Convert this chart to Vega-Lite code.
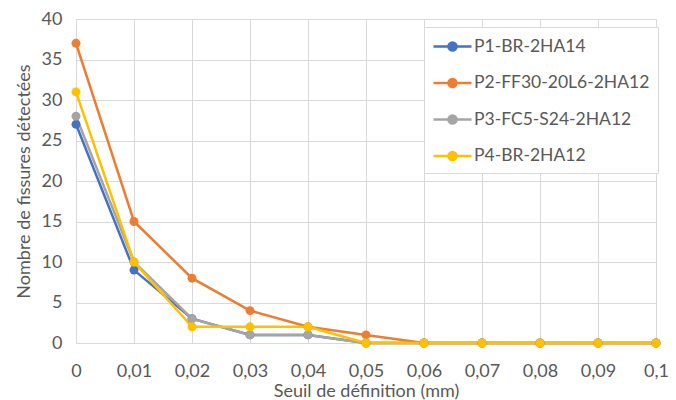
{
  "$schema": "https://vega.github.io/schema/vega-lite/v6.json",
  "width": 580,
  "height": 324,
  "autosize": "none",
  "padding": {"left": 76, "top": 19, "right": 20, "bottom": 57},
  "background": "white",
  "config": {
    "font": "Lato",
    "view": {"stroke": null},
    "axis": {
      "labelColor": "#595959",
      "titleColor": "#595959",
      "labelFontSize": 18,
      "titleFontSize": 18,
      "titleFontWeight": "normal",
      "gridColor": "#d9d9d9",
      "gridWidth": 1,
      "domainColor": "#d9d9d9",
      "domainWidth": 1,
      "ticks": false
    }
  },
  "data": {
    "values": [
      {"seuil": 0, "serie": "P1-BR-2HA14", "n": 27},
      {"seuil": 0.01, "serie": "P1-BR-2HA14", "n": 9},
      {"seuil": 0.02, "serie": "P1-BR-2HA14", "n": 3},
      {"seuil": 0.03, "serie": "P1-BR-2HA14", "n": 1},
      {"seuil": 0.04, "serie": "P1-BR-2HA14", "n": 1},
      {"seuil": 0.05, "serie": "P1-BR-2HA14", "n": 0},
      {"seuil": 0.06, "serie": "P1-BR-2HA14", "n": 0},
      {"seuil": 0.07, "serie": "P1-BR-2HA14", "n": 0},
      {"seuil": 0.08, "serie": "P1-BR-2HA14", "n": 0},
      {"seuil": 0.09, "serie": "P1-BR-2HA14", "n": 0},
      {"seuil": 0.1, "serie": "P1-BR-2HA14", "n": 0},
      {"seuil": 0, "serie": "P2-FF30-20L6-2HA12", "n": 37},
      {"seuil": 0.01, "serie": "P2-FF30-20L6-2HA12", "n": 15},
      {"seuil": 0.02, "serie": "P2-FF30-20L6-2HA12", "n": 8},
      {"seuil": 0.03, "serie": "P2-FF30-20L6-2HA12", "n": 4},
      {"seuil": 0.04, "serie": "P2-FF30-20L6-2HA12", "n": 2},
      {"seuil": 0.05, "serie": "P2-FF30-20L6-2HA12", "n": 1},
      {"seuil": 0.06, "serie": "P2-FF30-20L6-2HA12", "n": 0},
      {"seuil": 0.07, "serie": "P2-FF30-20L6-2HA12", "n": 0},
      {"seuil": 0.08, "serie": "P2-FF30-20L6-2HA12", "n": 0},
      {"seuil": 0.09, "serie": "P2-FF30-20L6-2HA12", "n": 0},
      {"seuil": 0.1, "serie": "P2-FF30-20L6-2HA12", "n": 0},
      {"seuil": 0, "serie": "P3-FC5-S24-2HA12", "n": 28},
      {"seuil": 0.01, "serie": "P3-FC5-S24-2HA12", "n": 10},
      {"seuil": 0.02, "serie": "P3-FC5-S24-2HA12", "n": 3},
      {"seuil": 0.03, "serie": "P3-FC5-S24-2HA12", "n": 1},
      {"seuil": 0.04, "serie": "P3-FC5-S24-2HA12", "n": 1},
      {"seuil": 0.05, "serie": "P3-FC5-S24-2HA12", "n": 0},
      {"seuil": 0.06, "serie": "P3-FC5-S24-2HA12", "n": 0},
      {"seuil": 0.07, "serie": "P3-FC5-S24-2HA12", "n": 0},
      {"seuil": 0.08, "serie": "P3-FC5-S24-2HA12", "n": 0},
      {"seuil": 0.09, "serie": "P3-FC5-S24-2HA12", "n": 0},
      {"seuil": 0.1, "serie": "P3-FC5-S24-2HA12", "n": 0},
      {"seuil": 0, "serie": "P4-BR-2HA12", "n": 31},
      {"seuil": 0.01, "serie": "P4-BR-2HA12", "n": 10},
      {"seuil": 0.02, "serie": "P4-BR-2HA12", "n": 2},
      {"seuil": 0.03, "serie": "P4-BR-2HA12", "n": 2},
      {"seuil": 0.04, "serie": "P4-BR-2HA12", "n": 2},
      {"seuil": 0.05, "serie": "P4-BR-2HA12", "n": 0},
      {"seuil": 0.06, "serie": "P4-BR-2HA12", "n": 0},
      {"seuil": 0.07, "serie": "P4-BR-2HA12", "n": 0},
      {"seuil": 0.08, "serie": "P4-BR-2HA12", "n": 0},
      {"seuil": 0.09, "serie": "P4-BR-2HA12", "n": 0},
      {"seuil": 0.1, "serie": "P4-BR-2HA12", "n": 0}
    ]
  },
  "encoding": {
    "x": {
      "field": "seuil",
      "type": "quantitative",
      "title": "Seuil de définition (mm)",
      "scale": {"domain": [0, 0.1], "nice": false, "zero": false},
      "axis": {
        "values": [0, 0.01, 0.02, 0.03, 0.04, 0.05, 0.06, 0.07, 0.08, 0.09, 0.1],
        "labelExpr": "replace(format(datum.value, '~g'), '.', ',')",
        "labelPadding": 19,
        "titlePadding": 2,
        "labelFlush": false
      }
    },
    "y": {
      "field": "n",
      "type": "quantitative",
      "title": "Nombre de fissures détectées",
      "scale": {"domain": [0, 40], "nice": false},
      "axis": {
        "values": [0, 5, 10, 15, 20, 25, 30, 35, 40],
        "labelPadding": 14,
        "titlePadding": 8
      }
    },
    "color": {
      "field": "serie",
      "type": "nominal",
      "scale": {
        "domain": ["P1-BR-2HA14", "P2-FF30-20L6-2HA12", "P3-FC5-S24-2HA12", "P4-BR-2HA12"],
        "range": ["#4472C4", "#ED7D31", "#A5A5A5", "#FFC000"]
      },
      "legend": {
        "title": null,
        "orient": "none",
        "legendX": 348,
        "legendY": 8,
        "padding": 8,
        "fillColor": "white",
        "strokeColor": "#d9d9d9",
        "symbolType": "M-1.9,0H1.9M-0.4,0A0.4,0.4 0 1 1 0.4,0A0.4,0.4 0 1 1 -0.4,0",
        "symbolSize": 400,
        "symbolStrokeWidth": 2.5,
        "symbolOffset": 9,
        "labelOffset": 10,
        "rowPadding": 15.5,
        "labelFontSize": 17.5,
        "labelColor": "#595959",
        "labelLimit": 400
      }
    }
  },
  "layer": [
    {"mark": {"type": "line", "strokeWidth": 2.5}},
    {"mark": {"type": "point", "filled": true, "size": 80, "opacity": 1}}
  ]
}
